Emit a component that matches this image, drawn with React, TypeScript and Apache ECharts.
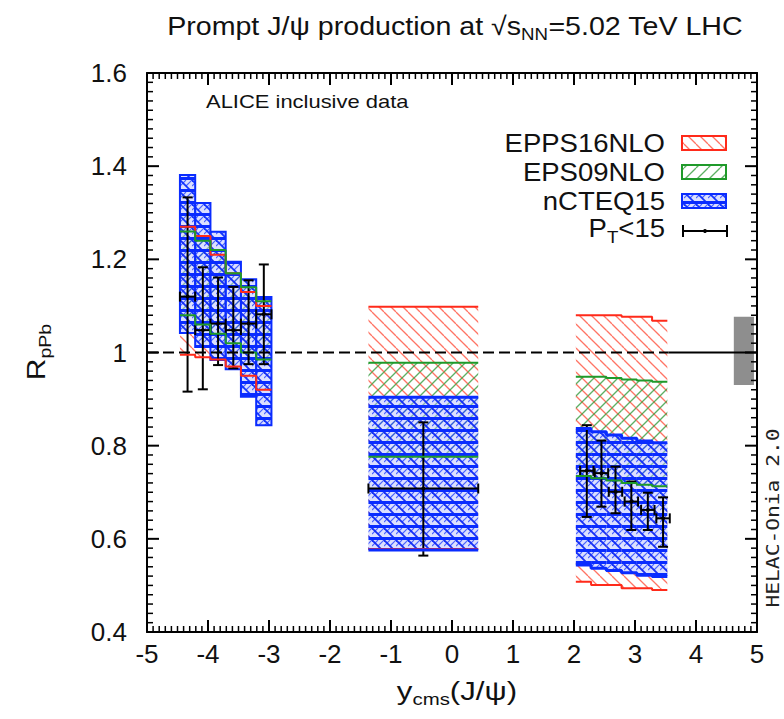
import React, { useEffect, useRef } from "react";
import * as echarts from "echarts";

// ---- data ----
const leftEdges = [-4.46, -4.21, -3.96, -3.71, -3.46, -3.21, -2.96];
const midEdges = [-1.37, 0.43];
const rightEdges = [2.03, 2.28, 2.53, 2.78, 3.03, 3.28, 3.53];

const epps16LeftLo = [0.995, 0.99, 0.985, 0.97, 0.95, 0.92];
const epps16LeftHi = [1.27, 1.25, 1.21, 1.17, 1.13, 1.1];
const eps09LeftLo = [1.08, 1.06, 1.04, 1.02, 1.0, 0.985];
const eps09LeftHi = [1.26, 1.24, 1.22, 1.17, 1.14, 1.11];
const ncteqLeftLo = [1.042, 1.012, 0.984, 0.964, 0.905, 0.844];
const ncteqLeftHi = [1.381, 1.321, 1.259, 1.195, 1.157, 1.119];

const epps16MidLo = [0.578];
const epps16MidHi = [1.098];
const eps09MidLo = [0.776];
const eps09MidHi = [0.978];
const ncteqMidLo = [0.576];
const ncteqMidHi = [0.904];

const epps16RightLo = [0.508, 0.501, 0.501, 0.494, 0.494, 0.49];
const epps16RightHi = [1.08, 1.08, 1.08, 1.077, 1.077, 1.068];
const eps09RightLo = [0.735, 0.73, 0.725, 0.72, 0.716, 0.713];
const eps09RightHi = [0.948, 0.948, 0.945, 0.942, 0.94, 0.937];
const ncteqRightLo = [0.544, 0.537, 0.532, 0.527, 0.522, 0.519];
const ncteqRightHi = [0.837, 0.83, 0.823, 0.816, 0.81, 0.806];

// ALICE inclusive data, pT < 15
const dataX = [-4.335, -4.085, -3.835, -3.585, -3.335, -3.085, -0.47, 2.21, 2.45, 2.68, 2.94, 3.21, 3.46];
const dataY = [1.12, 1.048, 1.062, 1.048, 1.062, 1.082, 0.708, 0.746, 0.741, 0.701, 0.68, 0.662, 0.644];
const dataHi = [1.333, 1.183, 1.161, 1.141, 1.155, 1.189, 0.85, 0.844, 0.811, 0.755, 0.723, 0.699, 0.689];
const dataLo = [0.916, 0.921, 0.973, 0.966, 0.975, 0.975, 0.564, 0.647, 0.669, 0.655, 0.619, 0.619, 0.583];
const dataXHalf = [0.125, 0.125, 0.125, 0.125, 0.125, 0.125, 0.9, 0.11, 0.11, 0.11, 0.11, 0.11, 0.11];

const normBoxX = [4.62, 4.95];
const normBoxY = [0.93, 1.077];
const unityDashEnd = 3.55;

const xTicks = { min: -5, max: 5, interval: 1 };
const yTicks = { min: 0.4, max: 1.6, interval: 0.2 };
const xMinorPerMajor = 10;
const yMinorPerMajor = 10;

const legendNames = ["EPPS16NLO", "EPS09NLO", "nCTEQ15"];

// ---- helpers ----
const FONT = '"Liberation Sans", Arial, Helvetica, sans-serif';
const RED = "#ff2a1a";
const GREEN = "#1f9a2a";
const BLUE = "#0a2cff";
const INK = "#111";
const TICK = "#000";

function rects(edges: number[], lo: number[], hi: number[]) {
  return lo.map((l, i) => [edges[i], edges[i + 1], l, hi[i]]);
}
function steps(edges: number[], vals: number[]) {
  const pts: number[][] = [];
  vals.forEach((v, i) => {
    pts.push([edges[i], v]);
    pts.push([edges[i + 1], v]);
  });
  return pts;
}
function tickList(t: { min: number; max: number; interval: number }, minor: number) {
  const out: number[][] = [];
  const n = Math.round((t.max - t.min) / t.interval) * minor;
  for (let i = 0; i <= n; i++) {
    const v = +(t.min + (i * t.interval) / minor).toFixed(6);
    out.push([v, i % minor === 0 ? 1 : 0]);
  }
  return out;
}

function makePattern(w: number, h: number, draw: (c: CanvasRenderingContext2D) => void) {
  const cv = document.createElement("canvas");
  cv.width = w;
  cv.height = h;
  const ctx = cv.getContext("2d")!;
  draw(ctx);
  return { image: cv, repeat: "repeat", imageWidth: w, imageHeight: h } as any;
}

function hatch(ctx: CanvasRenderingContext2D, w: number, dir: number, color: string, lw: number) {
  ctx.strokeStyle = color;
  ctx.lineWidth = lw;
  for (let k = -1; k <= 1; k++) {
    ctx.beginPath();
    if (dir > 0) {
      ctx.moveTo(k * w, 0);
      ctx.lineTo(k * w + w, w);
    } else {
      ctx.moveTo(k * w, w);
      ctx.lineTo(k * w + w, 0);
    }
    ctx.stroke();
  }
}

function sub(base: number, small: number, drop: number) {
  return {
    n: { fontSize: base, fontFamily: FONT, verticalAlign: "top", fill: INK },
    s: { fontSize: small, fontFamily: FONT, padding: [drop, 0, 0, 0], verticalAlign: "top", fill: INK },
  };
}

export default function App() {
  const ref = useRef<HTMLDivElement>(null);
  useEffect(() => {
    if (!ref.current) return;
    const chart = echarts.init(ref.current, null, { renderer: "svg" });

    const redPat = makePattern(12, 12, (c) => hatch(c, 12, 1, "rgba(255,70,50,0.75)", 1.3));
    const greenPat = makePattern(12, 12, (c) => hatch(c, 12, -1, "rgba(40,150,50,0.75)", 1.3));
    const bluePat = makePattern(12, 12, (c) => {
      c.fillStyle = "rgba(175,185,255,0.45)";
      c.fillRect(0, 0, 12, 12);
      c.fillStyle = "rgba(10,44,255,1)";
      c.fillRect(0, 9, 12, 3);
      hatch(c, 12, 1, "rgba(10,44,255,0.95)", 1.8);
      hatch(c, 6, -1, "rgba(10,44,255,0.7)", 1.1);
    });

    const bandSeries = (name: string, data: number[][], fill: any, stroke?: string) => ({
      type: "custom",
      name,
      data,
      encode: { x: [0, 1], y: [2, 3] },
      silent: true,
      renderItem: (_p: any, api: any) => {
        const a = api.coord([api.value(0), api.value(3)]);
        const b = api.coord([api.value(1), api.value(2)]);
        return {
          type: "rect",
          shape: { x: a[0], y: a[1], width: b[0] - a[0], height: b[1] - a[1] },
          style: stroke ? { fill, stroke, lineWidth: 2 } : { fill },
        };
      },
    });

    const lineSeries = (data: number[][], color: string, width = 2, type: any = "solid") => ({
      type: "line",
      data,
      symbol: "none",
      silent: true,
      lineStyle: { color, width, type },
    });

    const errData = dataX.map((x, i) => [x, dataY[i], dataLo[i], dataHi[i], x - dataXHalf[i], x + dataXHalf[i]]);

    const MAJ = 12;
    const MIN = 6;
    const xTickData = tickList(xTicks, xMinorPerMajor);
    const yTickData = tickList(yTicks, yMinorPerMajor);

    const axisCommon = {
      type: "value",
      axisLine: { show: true, onZero: false, lineStyle: { color: "#000", width: 2 } },
      axisTick: { show: false },
      minorTick: { show: false },
      splitLine: { show: false },
      minorSplitLine: { show: false },
    };

    const legendY = [143, 172, 201];
    const legendFill = [redPat, greenPat, bluePat];
    const legendStroke = [RED, GREEN, BLUE];

    const graphic: any[] = [
      {
        type: "text",
        x: 455,
        y: 28,
        scaleX: 1.1,
        style: {
          text: "{n|Prompt J/ψ production at √s}{s|NN}{n|=5.02 TeV LHC}",
          align: "center",
          verticalAlign: "middle",
          rich: sub(26, 17, 13),
        },
      },
      {
        type: "text",
        x: 206,
        y: 102,
        scaleX: 1.22,
        style: { text: "ALICE inclusive data", fontSize: 18, fontFamily: FONT, fill: INK, verticalAlign: "middle" },
      },
      {
        type: "text",
        x: 457,
        y: 693,
        scaleX: 1.2,
        style: {
          text: "{n|y}{s|cms}{n|(J/ψ)}",
          align: "center",
          verticalAlign: "middle",
          rich: sub(26, 17, 13),
        },
      },
      {
        type: "text",
        x: 38,
        y: 352,
        rotation: Math.PI / 2,
        scaleX: 1.15,
        style: {
          text: "{n|R}{s|pPb}",
          align: "center",
          verticalAlign: "middle",
          rich: sub(26, 17, 13),
        },
      },
      {
        type: "text",
        x: 773,
        y: 518,
        rotation: Math.PI / 2,
        scaleX: 1.25,
        style: {
          text: "HELAC-Onia 2.0",
          fontSize: 17,
          fontFamily: '"DejaVu Sans Mono", "Liberation Mono", monospace',
          fill: "#222",
          align: "center",
          verticalAlign: "middle",
        },
      },
    ];

    legendNames.forEach((nm, i) => {
      graphic.push({
        type: "text",
        x: 665,
        y: legendY[i],
        scaleX: 1.1,
        style: { text: nm, fontSize: 25, fontFamily: FONT, fill: INK, align: "right", verticalAlign: "middle" },
      });
      graphic.push({
        type: "rect",
        shape: { x: 682, y: legendY[i] - 7, width: 44, height: 14 },
        style: { fill: legendFill[i], stroke: legendStroke[i], lineWidth: 2 },
      });
    });
    graphic.push({
      type: "text",
      x: 665,
      y: 231,
      scaleX: 1.1,
      style: {
        text: "{n|P}{s|T}{n|<15}",
        align: "right",
        verticalAlign: "middle",
        rich: sub(25, 17, 13),
      },
    });
    graphic.push(
      { type: "line", shape: { x1: 683, y1: 231, x2: 727, y2: 231 }, style: { stroke: "#000", lineWidth: 2 } },
      { type: "line", shape: { x1: 683, y1: 225, x2: 683, y2: 237 }, style: { stroke: "#000", lineWidth: 2 } },
      { type: "line", shape: { x1: 727, y1: 225, x2: 727, y2: 237 }, style: { stroke: "#000", lineWidth: 2 } },
      { type: "circle", shape: { cx: 705, cy: 231, r: 2 }, style: { fill: "#000" } }
    );

    const option: any = {
      animation: false,
      backgroundColor: "#fff",
      grid: { left: 147, top: 73, right: 27, bottom: 87, containLabel: false },
      xAxis: [
        {
          ...axisCommon,
          ...xTicks,
          position: "bottom",
          axisLabel: { fontSize: 26, color: INK, fontFamily: FONT, margin: 9 },
        },
        { ...axisCommon, ...xTicks, position: "top", axisLabel: { show: false } },
      ],
      yAxis: [
        {
          ...axisCommon,
          ...yTicks,
          position: "left",
          axisLabel: { fontSize: 26, color: INK, fontFamily: FONT, margin: 20 },
        },
        { ...axisCommon, ...yTicks, position: "right", axisLabel: { show: false } },
      ],
      graphic,
      series: [
        bandSeries("EPPS16NLO", rects(leftEdges, epps16LeftLo, epps16LeftHi), redPat),
        bandSeries("EPPS16NLO", rects(midEdges, epps16MidLo, epps16MidHi), redPat),
        bandSeries("EPPS16NLO", rects(rightEdges, epps16RightLo, epps16RightHi), redPat),
        lineSeries(steps(leftEdges, epps16LeftLo), RED),
        lineSeries(steps(leftEdges, epps16LeftHi), RED),
        lineSeries(steps(midEdges, epps16MidLo), RED),
        lineSeries(steps(midEdges, epps16MidHi), RED),
        lineSeries(steps(rightEdges, epps16RightLo), RED),
        lineSeries(steps(rightEdges, epps16RightHi), RED),
        bandSeries("EPS09NLO", rects(leftEdges, eps09LeftLo, eps09LeftHi), greenPat),
        bandSeries("EPS09NLO", rects(midEdges, eps09MidLo, eps09MidHi), greenPat),
        bandSeries("EPS09NLO", rects(rightEdges, eps09RightLo, eps09RightHi), greenPat),
        lineSeries(steps(leftEdges, eps09LeftLo), GREEN),
        lineSeries(steps(leftEdges, eps09LeftHi), GREEN),
        lineSeries(steps(midEdges, eps09MidLo), GREEN),
        lineSeries(steps(midEdges, eps09MidHi), GREEN),
        lineSeries(steps(rightEdges, eps09RightLo), GREEN),
        lineSeries(steps(rightEdges, eps09RightHi), GREEN),
        bandSeries("nCTEQ15", rects(leftEdges, ncteqLeftLo, ncteqLeftHi), bluePat, BLUE),
        bandSeries("nCTEQ15", rects(midEdges, ncteqMidLo, ncteqMidHi), bluePat),
        bandSeries("nCTEQ15", rects(rightEdges, ncteqRightLo, ncteqRightHi), bluePat),
        lineSeries(steps(midEdges, ncteqMidLo), BLUE, 3),
        lineSeries(steps(midEdges, ncteqMidHi), BLUE, 3),
        lineSeries(steps(rightEdges, ncteqRightLo), BLUE, 3),
        lineSeries(steps(rightEdges, ncteqRightHi), BLUE, 3),
        {
          type: "custom",
          data: [[normBoxX[0], normBoxX[1], normBoxY[0], normBoxY[1]]],
          encode: { x: [0, 1], y: [2, 3] },
          silent: true,
          renderItem: (_p: any, api: any) => {
            const a = api.coord([api.value(0), api.value(3)]);
            const b = api.coord([api.value(1), api.value(2)]);
            return {
              type: "rect",
              shape: { x: a[0], y: a[1], width: b[0] - a[0], height: b[1] - a[1] },
              style: { fill: "#8e8e8e" },
            };
          },
        },
        lineSeries([[xTicks.min, 1], [unityDashEnd, 1]], "#000", 2, [11, 5]),
        lineSeries([[unityDashEnd, 1], [xTicks.max, 1]], "#000", 2),
        {
          type: "custom",
          name: "PT<15",
          data: errData,
          encode: { x: [0, 4, 5], y: [1, 2, 3] },
          silent: true,
          renderItem: (_p: any, api: any) => {
            const c = api.coord([api.value(0), api.value(1)]);
            const lo = api.coord([api.value(0), api.value(2)]);
            const hi = api.coord([api.value(0), api.value(3)]);
            const l = api.coord([api.value(4), api.value(1)]);
            const r = api.coord([api.value(5), api.value(1)]);
            const st = { stroke: "#000", lineWidth: 2, fill: null };
            const cap = 5;
            return {
              type: "group",
              children: [
                { type: "line", shape: { x1: lo[0], y1: lo[1], x2: hi[0], y2: hi[1] }, style: st },
                { type: "line", shape: { x1: hi[0] - cap, y1: hi[1], x2: hi[0] + cap, y2: hi[1] }, style: st },
                { type: "line", shape: { x1: lo[0] - cap, y1: lo[1], x2: lo[0] + cap, y2: lo[1] }, style: st },
                { type: "line", shape: { x1: l[0], y1: l[1], x2: r[0], y2: r[1] }, style: st },
                { type: "line", shape: { x1: l[0], y1: l[1] - cap, x2: l[0], y2: l[1] + cap }, style: st },
                { type: "line", shape: { x1: r[0], y1: r[1] - cap, x2: r[0], y2: r[1] + cap }, style: st },
                { type: "circle", shape: { cx: c[0], cy: c[1], r: 2 }, style: { fill: "#000" } },
              ],
            };
          },
        },
        // frame ticks (inside, all four sides) placed through the axes' scales
        {
          type: "custom",
          data: [[0, 1]],
          encode: { x: 0, y: 1 },
          silent: true,
          z: 20,
          renderItem: (_p: any, api: any) => {
            const children: any[] = [];
            xTickData.forEach(([v, m]) => {
              const len = m ? MAJ : MIN;
              const st = { stroke: TICK, lineWidth: m ? 2 : 1.5, fill: null };
              const b = api.coord([v, yTicks.min]);
              const t = api.coord([v, yTicks.max]);
              children.push({ type: "line", shape: { x1: b[0], y1: b[1], x2: b[0], y2: b[1] - len }, style: st });
              children.push({ type: "line", shape: { x1: t[0], y1: t[1], x2: t[0], y2: t[1] + len }, style: st });
            });
            yTickData.forEach(([v, m]) => {
              const len = m ? MAJ : MIN;
              const st = { stroke: TICK, lineWidth: m ? 2 : 1.5, fill: null };
              const l = api.coord([xTicks.min, v]);
              const r = api.coord([xTicks.max, v]);
              children.push({ type: "line", shape: { x1: l[0], y1: l[1], x2: l[0] + len, y2: l[1] }, style: st });
              children.push({ type: "line", shape: { x1: r[0], y1: r[1], x2: r[0] - len, y2: r[1] }, style: st });
            });
            return { type: "group", children };
          },
        },
      ],
    };
    chart.setOption(option);
    return () => chart.dispose();
  }, []);
  return (
    <div
      ref={ref}
      style={{ position: "fixed", left: 0, top: 0, width: 784, height: 719, background: "#fff" }}
    />
  );
}
